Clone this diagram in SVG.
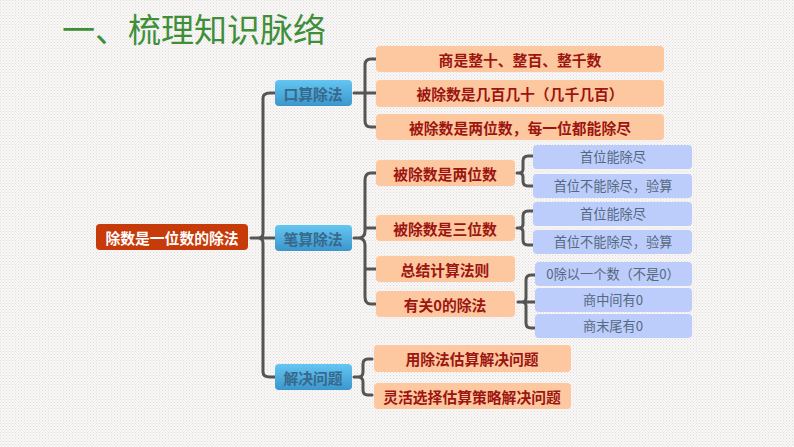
<svg xmlns="http://www.w3.org/2000/svg" width="794" height="447" viewBox="0 0 794 447">
<style>
text{font-family:"Noto Sans CJK SC","Liberation Sans",sans-serif;text-anchor:middle}
.c{fill:none;stroke:#555;stroke-width:3;stroke-linecap:round}
.root{fill:#c73a0a}.rt{fill:#fff;font-size:14.8px;font-weight:700}
.b{fill:url(#bg)}.bt{fill:#38688a;font-size:14.8px;font-weight:700}
.p{fill:#fdc8a0}.pt{fill:#9c1510;font-size:14.8px;font-weight:700}
.l{fill:#bccdfb}.lt{fill:#566880;font-size:13.2px}
</style>
<defs>
<pattern id="dots" width="3" height="3" patternUnits="userSpaceOnUse"><rect width="3" height="3" fill="#f9f8f6"/><rect width="1" height="1" fill="#dedcda"/><rect x="1.5" y="1.5" width="1" height="1" fill="#e4e3e1"/></pattern>
<linearGradient id="bg" x1="0" y1="0" x2="0" y2="1"><stop offset="0" stop-color="#64c6f2"/><stop offset="1" stop-color="#3b96cc"/></linearGradient>
</defs>
<rect width="794" height="447" fill="url(#dots)"/>
<text id="title" x="194" y="42" style="font-size:33px;fill:#3f8f3a;font-weight:400">一、梳理知识脉络</text>
<g id="connectors">
<path class="c" d="M251 238H258Q263 238 263 233V98Q263 93 270 93H275M258 238Q263 238 263 243V372Q263 377 270 377H275M263 238H275"/>
<path class="c" d="M354 93H360M376 59H371Q365 59 365 65V121Q365 127 371 127H376M360 93H376"/>
<path class="c" d="M354 238H358Q365 238 365 231V180Q365 173 371 173H376M358 238Q365 238 365 245V297Q365 304 371 304H376M365 228H376M365 269H376"/>
<path class="c" d="M517 173H519Q523 173 523 169V161Q523 156 528 156H533M519 173Q523 173 523 177V181Q523 186 528 186H533"/>
<path class="c" d="M517 228H519Q523 228 523 224V216Q523 211 528 211H533M519 228Q523 228 523 232V240Q523 245 528 245H533"/>
<path class="c" d="M518 302H522Q526 302 526 298V280Q526 275 531 275H535M522 302H535M522 302Q526 302 526 306V323Q526 328 531 328H535"/>
<path class="c" d="M354 377H358Q363 377 363 372V364Q363 359 368 359H372M358 377Q363 377 363 382V390Q363 395 368 395H372"/>
</g>
<g id="root"><rect class="root" x="96" y="224" width="152" height="26" rx="4"/><text class="rt" x="172" y="244">除数是一位数的除法</text></g>
<g id="n1"><rect class="b" x="275" y="80" width="77" height="26" rx="4"/><text class="bt" x="313" y="100">口算除法</text></g>
<g id="n2"><rect class="b" x="275" y="225" width="77" height="26" rx="4"/><text class="bt" x="313" y="245">笔算除法</text></g>
<g id="n3"><rect class="b" x="275" y="364" width="77" height="26" rx="4"/><text class="bt" x="313" y="384">解决问题</text></g>
<g id="p1"><rect class="p" x="376" y="46" width="288" height="26" rx="4"/><text class="pt" x="520" y="66">商是整十、整百、整千数</text></g>
<g id="p2"><rect class="p" x="376" y="80" width="288" height="27" rx="4"/><text class="pt" x="520" y="100">被除数是几百几十（几千几百）</text></g>
<g id="p3"><rect class="p" x="376" y="114" width="288" height="26" rx="4"/><text class="pt" x="520" y="134">被除数是两位数，每一位都能除尽</text></g>
<g id="p4"><rect class="p" x="376" y="160" width="139" height="26" rx="4"/><text class="pt" x="445" y="180">被除数是两位数</text></g>
<g id="p5"><rect class="p" x="376" y="215" width="139" height="26" rx="4"/><text class="pt" x="445" y="235">被除数是三位数</text></g>
<g id="p6"><rect class="p" x="376" y="256" width="139" height="26" rx="4"/><text class="pt" x="445" y="276">总结计算法则</text></g>
<g id="p7"><rect class="p" x="376" y="291" width="139" height="26" rx="4"/><text class="pt" x="445" y="311">有关0的除法</text></g>
<g id="p8"><rect class="p" x="374" y="345" width="197" height="27" rx="4"/><text class="pt" x="472" y="365">用除法估算解决问题</text></g>
<g id="p9"><rect class="p" x="374" y="383" width="197" height="26" rx="4"/><text class="pt" x="472" y="403">灵活选择估算策略解决问题</text></g>
<g id="l1"><rect class="l" x="533" y="145" width="159" height="24" rx="4"/><text class="lt" x="613" y="162">首位能除尽</text></g>
<g id="l2"><rect class="l" x="533" y="174" width="159" height="24" rx="4"/><text class="lt" x="613" y="191">首位不能除尽，验算</text></g>
<g id="l3"><rect class="l" x="533" y="202" width="159" height="24" rx="4"/><text class="lt" x="613" y="219">首位能除尽</text></g>
<g id="l4"><rect class="l" x="533" y="230" width="159" height="24" rx="4"/><text class="lt" x="613" y="247">首位不能除尽，验算</text></g>
<g id="l5"><rect class="l" x="535" y="262" width="157" height="24" rx="4"/><text class="lt" x="613" y="279">0除以一个数（不是0）</text></g>
<g id="l6"><rect class="l" x="535" y="288" width="157" height="24" rx="4"/><text class="lt" x="613" y="305">商中间有0</text></g>
<g id="l7"><rect class="l" x="535" y="314" width="157" height="24" rx="4"/><text class="lt" x="613" y="331">商末尾有0</text></g>
</svg>
